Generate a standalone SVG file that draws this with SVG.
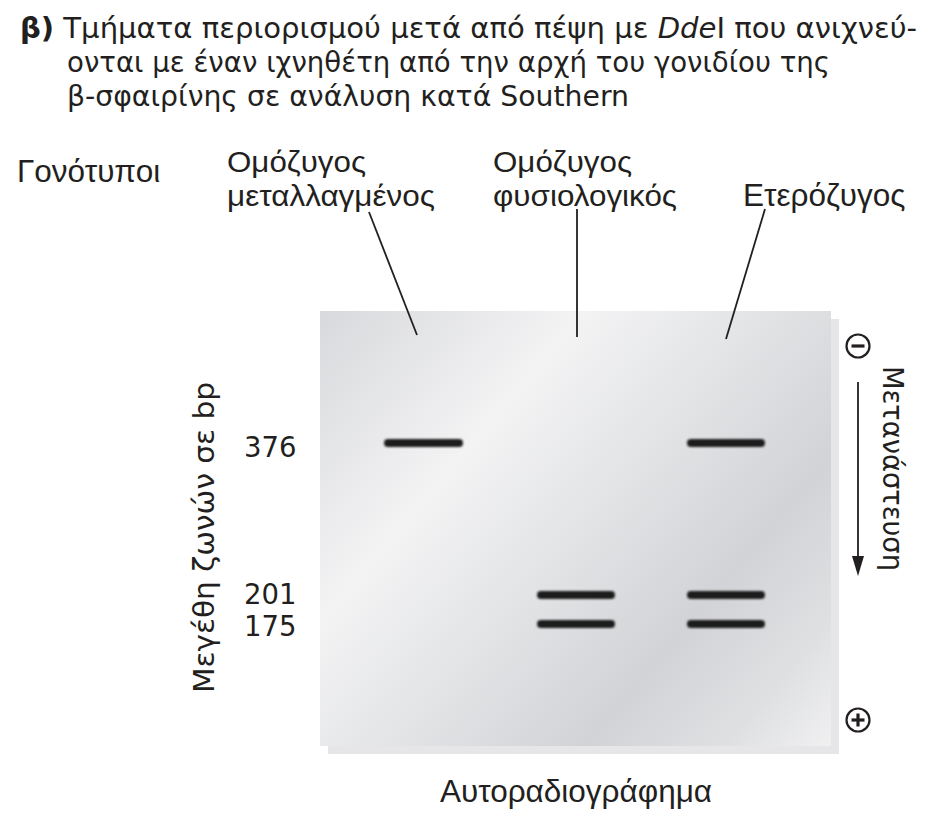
<svg xmlns="http://www.w3.org/2000/svg" width="935" height="821" viewBox="0 0 935 821">
<style>
.t{font-family:"DejaVu Sans",Verdana,sans-serif;font-size:29px;fill:#231f20}
.l{font-family:"Liberation Sans",Arial,sans-serif;font-size:31.5px;fill:#231f20}
.g{font-family:"Liberation Sans",Arial,sans-serif;font-size:30px;fill:#231f20}
.n{font-family:"DejaVu Sans",Verdana,sans-serif;font-size:27.5px;fill:#231f20}
.ln{stroke:#231f20;stroke-width:1.8;fill:none}
.band{fill:#1e1e1e;filter:url(#blur)}
.el{fill:none;stroke:#231f20;stroke-width:2.2}
.sg{stroke:#231f20;stroke-width:3.2}
</style>
<defs>
<linearGradient id="gel" x1="320" y1="311" x2="831" y2="746" gradientUnits="userSpaceOnUse">
<stop offset="0" stop-color="#d8d9dc"/>
<stop offset="0.3" stop-color="#f3f3f4"/>
<stop offset="0.5" stop-color="#e3e4e6"/>
<stop offset="0.72" stop-color="#d2d3d6"/>
<stop offset="0.88" stop-color="#dfe0e2"/>
<stop offset="1" stop-color="#f0f0f1"/>
</linearGradient>
<filter id="blur" x="-10%" y="-100%" width="120%" height="300%"><feGaussianBlur stdDeviation="0.8"/></filter>
</defs>
<rect width="935" height="821" fill="#ffffff"/>
<g id="title">
<text class="t" x="20" y="38" textLength="897" lengthAdjust="spacingAndGlyphs"><tspan font-weight="bold">β)</tspan> Τμήματα περιορισμού μετά από πέψη με <tspan font-style="italic">Dde</tspan>I που ανιχνεύ-</text>
<text class="t" x="67" y="72" textLength="763" lengthAdjust="spacingAndGlyphs">ονται με έναν ιχνηθέτη από την αρχή του γονιδίου της</text>
<text class="t" x="67" y="106" textLength="562" lengthAdjust="spacingAndGlyphs">β-σφαιρίνης σε ανάλυση κατά Southern</text>
</g>
<g id="genotypes-label"><text class="l" x="17" y="182">Γονότυποι</text></g>
<g id="homo-mutant"><text class="g" x="227" y="172" textLength="139" lengthAdjust="spacingAndGlyphs">Ομόζυγος</text><text class="g" x="227" y="206" textLength="208" lengthAdjust="spacingAndGlyphs">μεταλλαγμένος</text></g>
<g id="homo-normal"><text class="g" x="493" y="172" textLength="139" lengthAdjust="spacingAndGlyphs">Ομόζυγος</text><text class="g" x="493" y="206" textLength="184" lengthAdjust="spacingAndGlyphs">φυσιολογικός</text></g>
<g id="hetero"><text class="l" x="743" y="206">Ετερόζυγος</text></g>
<g id="gel-node">
<rect x="328" y="319" width="511" height="435" fill="#e6e6e8"/>
<rect x="320" y="311" width="511" height="435" fill="url(#gel)"/>
<rect class="band" x="384" y="439" width="79" height="8" rx="4"/>
<rect class="band" x="537" y="591" width="78" height="8" rx="4"/>
<rect class="band" x="537" y="620" width="78" height="8" rx="4"/>
<rect class="band" x="687" y="439" width="78" height="8" rx="4"/>
<rect class="band" x="687" y="591" width="78" height="8" rx="4"/>
<rect class="band" x="687" y="620" width="78" height="8" rx="4"/>
</g>
<g id="size-axis">
<text class="n" transform="translate(214,693) rotate(-90)" textLength="311" lengthAdjust="spacingAndGlyphs">Μεγέθη ζωνών σε bp</text>
<text class="n" x="244" y="457">376</text>
<text class="n" x="244" y="604">201</text>
<text class="n" x="244" y="636">175</text>
</g>
<g id="electrodes">
<circle class="el" cx="858" cy="346" r="11.5"/>
<line class="sg" x1="851.5" y1="346" x2="864.5" y2="346"/>
<circle class="el" cx="858" cy="720" r="11.5"/>
<line class="sg" x1="851.5" y1="720" x2="864.5" y2="720"/>
<line class="sg" x1="858" y1="713.5" x2="858" y2="726.5"/>
<text class="n" transform="translate(883,366) rotate(90)" textLength="205" lengthAdjust="spacingAndGlyphs">Μετανάστευση</text>
</g>
<g id="autorad"><text class="l" x="576" y="802" text-anchor="middle" font-size="33">Αυτοραδιογράφημα</text></g>
<g id="connectors">
<line class="ln" x1="369" y1="212" x2="417" y2="335"/>
<line class="ln" x1="577" y1="209" x2="577" y2="337"/>
<line class="ln" x1="765" y1="209" x2="726" y2="339"/>
<line class="ln" x1="858" y1="382" x2="858" y2="560"/>
<polygon points="858,576 852,556 864,556" fill="#231f20"/>
</g>
</svg>
